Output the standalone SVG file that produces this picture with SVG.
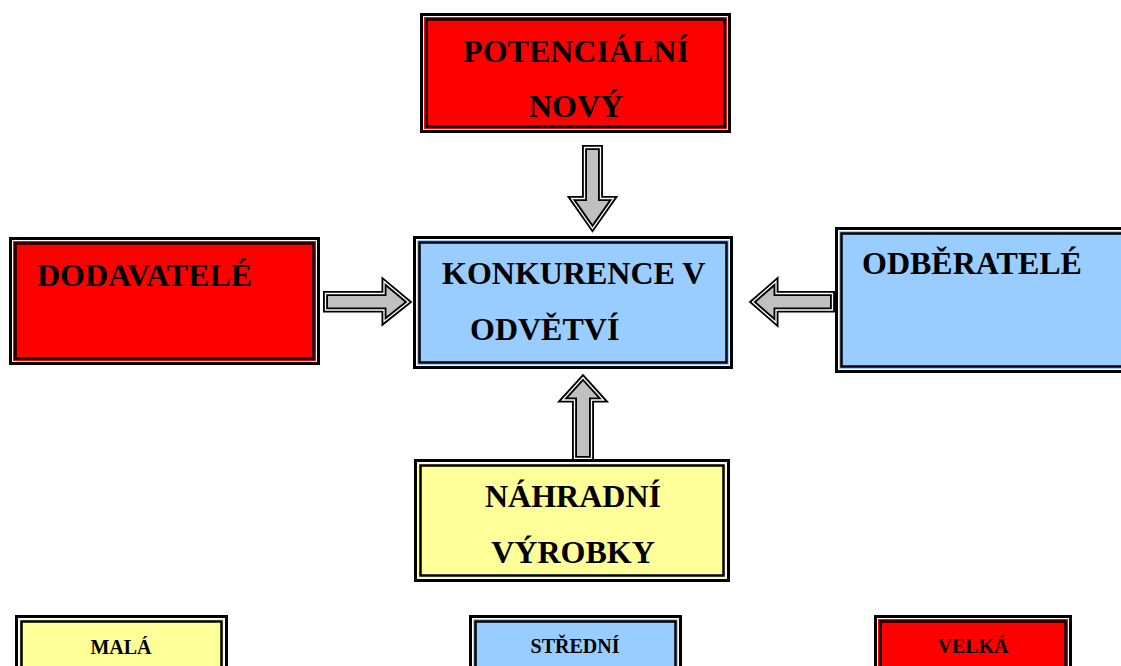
<svg xmlns="http://www.w3.org/2000/svg" width="1121" height="666" viewBox="0 0 1121 666">
<style>
.o{stroke:#000;stroke-width:3}
.w{fill:none;stroke:#fff;stroke-width:1}
.i{fill:none;stroke:#000;stroke-width:2.5}
.red{fill:#ff0000}.blue{fill:#99ccff}.yel{fill:#ffff99}
.t{font-family:"Liberation Serif","Times New Roman",serif;font-weight:bold;font-size:32px;fill:#000}
.s{font-family:"Liberation Serif","Times New Roman",serif;font-weight:bold;font-size:20px;fill:#000}
.ab{fill:#c0c0c0;stroke:#000;stroke-width:5;stroke-linejoin:miter}
.aw{fill:none;stroke:#fff;stroke-width:1.3;stroke-linejoin:miter}
</style>
<rect width="1121" height="666" fill="#fff"/>
<g id="connectors">
<polygon class="ab" points="584.5,147.5 600.5,147.5 600.5,198.5 613.5,198.5 592.5,228.5 571.5,198.5 584.5,198.5"/>
<polygon class="aw" points="584.5,147.5 600.5,147.5 600.5,198.5 613.5,198.5 592.5,228.5 571.5,198.5 584.5,198.5"/>
<polygon class="ab" points="325.5,293.5 384,293.5 384,281.5 408.5,302 384,321.5 384,310 325.5,310"/>
<polygon class="aw" points="325.5,293.5 384,293.5 384,281.5 408.5,302 384,321.5 384,310 325.5,310"/>
<polygon class="ab" points="752.5,302 776,281.5 776,293.5 832.5,293.5 832.5,310 776,310 776,322.5"/>
<polygon class="aw" points="752.5,302 776,281.5 776,293.5 832.5,293.5 832.5,310 776,310 776,322.5"/>
<polygon class="ab" points="583,377.5 603.5,400 591.5,400 591.5,458.5 574.5,458.5 574.5,400 562.5,400"/>
<polygon class="aw" points="583,377.5 603.5,400 591.5,400 591.5,458.5 574.5,458.5 574.5,400 562.5,400"/>
</g>
<g id="potencialni">
<rect class="o red" x="421.5" y="14.5" width="308" height="117"/>
<rect class="w" x="423.5" y="16.5" width="304" height="113"/>
<rect class="i" x="426.5" y="19.5" width="298" height="107"/>
<text class="t" x="576" y="62" text-anchor="middle">POTENCIÁLNÍ</text>
<text class="t" x="576" y="117" text-anchor="middle">NOVÝ</text>
</g>
<g id="konkurence">
<rect class="o blue" x="414.5" y="237.5" width="317" height="130"/>
<rect class="w" x="416.5" y="239.5" width="313" height="126"/>
<rect class="i" x="419.5" y="242.5" width="307" height="120"/>
<text class="t" x="442" y="284">KONKURENCE V</text>
<text class="t" x="470" y="340">ODVĚTVÍ</text>
</g>
<g id="dodavatele">
<rect class="o red" x="10.5" y="238.5" width="308" height="125"/>
<rect class="w" x="12.5" y="240.5" width="304" height="121"/>
<rect class="i" x="15.5" y="243.5" width="298" height="115"/>
<text class="t" x="37" y="286">DODAVATELÉ</text>
</g>
<g id="odberatele">
<rect class="o blue" x="836.5" y="228.5" width="300" height="143"/>
<rect class="w" x="838.5" y="230.5" width="296" height="139"/>
<rect class="i" x="841.5" y="233.5" width="290" height="133"/>
<text class="t" x="862" y="274">ODBĚRATELÉ</text>
</g>
<g id="nahradni">
<rect class="o yel" x="415.5" y="460.5" width="313" height="120"/>
<rect class="w" x="417.5" y="462.5" width="309" height="116"/>
<rect class="i" x="420.5" y="465.5" width="303" height="110"/>
<text class="t" x="573" y="507" text-anchor="middle">NÁHRADNÍ</text>
<text class="t" x="573" y="563" text-anchor="middle">VÝROBKY</text>
</g>
<g id="legend-mala">
<rect class="o yel" x="16.5" y="616.5" width="210" height="62"/>
<rect class="w" x="18.5" y="618.5" width="206" height="58"/>
<rect class="i" x="21.5" y="621.5" width="200" height="52"/>
<text class="s" x="121" y="654" text-anchor="middle">MALÁ</text>
</g>
<g id="legend-stredni">
<rect class="o blue" x="470.5" y="616.5" width="210" height="62"/>
<rect class="w" x="472.5" y="618.5" width="206" height="58"/>
<rect class="i" x="475.5" y="621.5" width="200" height="52"/>
<text class="s" x="575" y="653" text-anchor="middle">STŘEDNÍ</text>
</g>
<g id="legend-velka">
<rect class="o red" x="875.5" y="616.5" width="195" height="62"/>
<rect class="w" x="877.5" y="618.5" width="191" height="58"/>
<rect class="i" x="880.5" y="621.5" width="185" height="52"/>
<text class="s" x="973" y="653" text-anchor="middle">VELKÁ</text>
</g>
</svg>
